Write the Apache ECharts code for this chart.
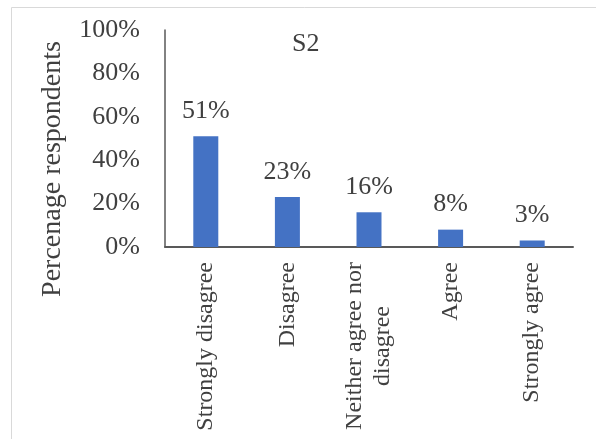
<!DOCTYPE html>
<html>
<head>
<meta charset="utf-8">
<script src="https://cdn.jsdelivr.net/npm/echarts@6/dist/echarts.min.js"></script>
<style>
  html, body { margin: 0; padding: 0; background: #fff; }
  #chart { width: 596px; height: 439px; }
</style>
</head>
<body>
<div id="chart"></div>
<script>
// Survey responses for statement S2
const categories = ['Strongly disagree', 'Disagree', 'Neither agree nor\ndisagree', 'Agree', 'Strongly agree'];
const percentages = [51, 23, 16, 8, 3];
const yTicks = { min: 0, max: 100, step: 20 };
const chartTitle = 'S2';
const yAxisTitle = 'Percenage respondents';

const serif = "'Liberation Serif', 'Times New Roman', serif";
const textColor = '#404040';

const chart = echarts.init(document.getElementById('chart'), null, { renderer: 'canvas' });

chart.setOption({
  animation: false,
  backgroundColor: '#fff',
  title: {
    text: chartTitle,
    left: 292,
    top: 31,
    padding: 0,
    textStyle: { fontFamily: serif, fontSize: 26, fontWeight: 'normal', color: textColor }
  },
  graphic: [
    {
      type: 'rect',
      silent: true,
      shape: { x: 11.5, y: 7.5, width: 620, height: 480 },
      style: { fill: 'none', stroke: '#d9d9d9', lineWidth: 1 }
    },
    {
      type: 'text',
      silent: true,
      x: 53,
      y: 169,
      rotation: Math.PI / 2,
      style: {
        text: yAxisTitle,
        fontFamily: serif,
        fontSize: 28,
        fill: textColor,
        textAlign: 'center',
        textVerticalAlign: 'middle'
      }
    }
  ],
  grid: { left: 165, right: 23, top: 30, bottom: 192, containLabel: false },
  xAxis: {
    type: 'category',
    data: categories,
    axisLine: { show: true, lineStyle: { color: '#595959', width: 2 } },
    axisTick: { show: false },
    axisLabel: {
      interval: 0,
      rotate: 90,
      margin: 15,
      formatter: v => v.split('\n').map(s => '{c|' + s + '}').join('\n'),
      rich: {
        c: { fontFamily: serif, fontSize: 24, color: textColor, align: 'center', lineHeight: 28 }
      }
    }
  },
  yAxis: {
    type: 'value',
    min: yTicks.min,
    max: yTicks.max,
    interval: yTicks.step,
    axisLine: { show: true, lineStyle: { color: '#595959', width: 1.5 } },
    axisTick: { show: false },
    splitLine: { show: false },
    axisLabel: {
      margin: 25,
      formatter: '{value}%',
      fontFamily: serif,
      fontSize: 26,
      color: textColor
    }
  },
  series: [
    {
      type: 'bar',
      data: percentages,
      barWidth: 25,
      itemStyle: { color: '#4472C4' },
      label: {
        show: true,
        position: 'top',
        distance: 12,
        formatter: p => p.value + '%',
        fontFamily: serif,
        fontSize: 26,
        color: textColor
      }
    }
  ]
});
</script>
</body>
</html>
